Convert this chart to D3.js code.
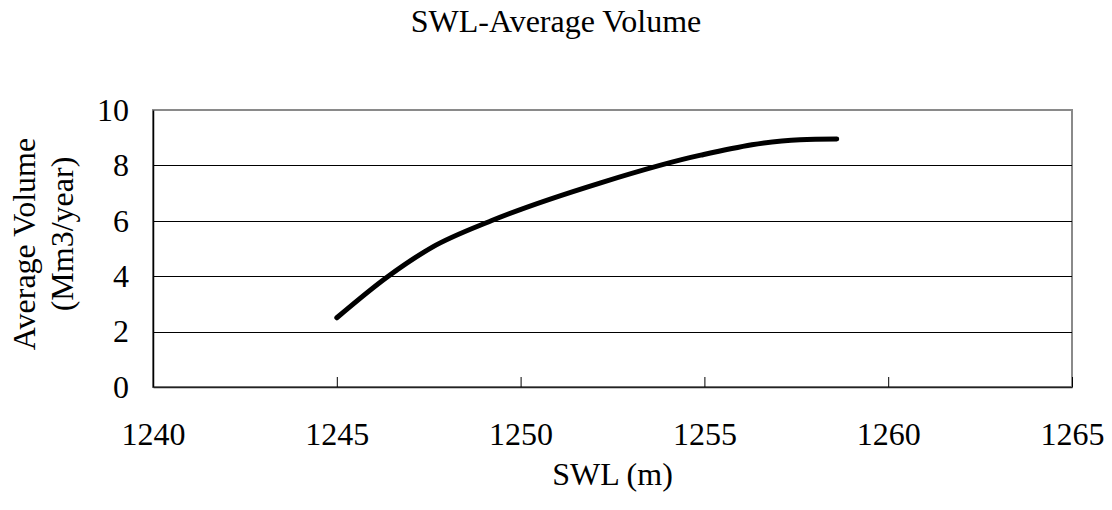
<!DOCTYPE html>
<html>
<head>
<meta charset="utf-8">
<script src="https://cdn.jsdelivr.net/npm/d3@7"></script>
<style>
  html, body { margin: 0; padding: 0; background: #fff; }
  svg { display: block; }
  text { font-family: "Liberation Serif", "Times New Roman", serif; fill: #000; }
</style>
</head>
<body>
<script>
// ---- data ----
const swl    = [1245.0, 1246.4, 1247.6, 1249.2, 1252.2, 1254.9, 1257.6, 1258.6];
const volume = [2.50,   4.00,   5.05,   6.00,   7.38,   8.37,   8.93,   8.95];
const xTicks = [1240, 1245, 1250, 1255, 1260, 1265];
const yTicks = [0, 2, 4, 6, 8, 10];
const titleText = "SWL-Average Volume";
const xTitle = "SWL (m)";
const yTitleLines = ["Average Volume", "(Mm3/year)"];

const W = 1112, H = 510;
const plot = { left: 153, right: 1072, top: 110, bottom: 387 };
const FS = 32;

const svg = d3.select("body").append("svg").attr("width", W).attr("height", H);

const x = d3.scaleLinear().domain([1240, 1265]).range([plot.left, plot.right]);
const y = d3.scaleLinear().domain([0, 10]).range([plot.bottom, plot.top]);

// plot border (gray)
svg.append("rect")
  .attr("x", plot.left).attr("y", plot.top)
  .attr("width", plot.right - plot.left).attr("height", plot.bottom - plot.top)
  .attr("fill", "#fff").attr("stroke", "#8a8a8a").attr("stroke-width", 2);

// gridlines
svg.append("g").selectAll("line")
  .data(yTicks.filter(d => d > 0 && d < 10))
  .join("line")
  .attr("x1", plot.left).attr("x2", plot.right)
  .attr("y1", d => Math.round(y(d)) + 0.5).attr("y2", d => Math.round(y(d)) + 0.5)
  .attr("stroke", "#000").attr("stroke-width", 1);

// y axis
const yAxis = d3.axisLeft(y).tickValues(yTicks).tickSize(0).tickPadding(24).tickFormat(d3.format("d"));
const gy = svg.append("g").attr("transform", `translate(${plot.left},0)`).call(yAxis);
gy.attr("font-size", FS).attr("font-family", "Liberation Serif");
gy.select(".domain").attr("stroke", "#000").attr("stroke-width", 1.5);
gy.selectAll("text").attr("font-size", FS);

// x axis (ticks inside)
const xAxis = d3.axisBottom(x).tickValues(xTicks).tickSizeInner(-10).tickSizeOuter(0).tickPadding(0).tickFormat(d3.format("d"));
const gx = svg.append("g").attr("transform", `translate(0,${plot.bottom})`).call(xAxis);
gx.attr("font-size", FS).attr("font-family", "Liberation Serif");
gx.select(".domain").attr("stroke", "#222").attr("stroke-width", 1.5);
gx.selectAll(".tick line").attr("stroke", "#000");
gx.selectAll("text").attr("font-size", FS).attr("dy", null).attr("y", 58);

// curve
const pts = swl.map((s, i) => [s, volume[i]]);
svg.append("path")
  .datum(pts)
  .attr("fill", "none").attr("stroke", "#000").attr("stroke-width", 5)
  .attr("stroke-linecap", "round").attr("stroke-linejoin", "round")
  .attr("d", d3.line().x(d => x(d[0])).y(d => y(d[1])).curve(d3.curveMonotoneX));

// titles
svg.append("text").attr("x", 556).attr("y", 32).attr("text-anchor", "middle")
  .attr("font-size", FS).text(titleText);
svg.append("text").attr("x", (plot.left + plot.right) / 2).attr("y", 485).attr("text-anchor", "middle")
  .attr("font-size", FS).text(xTitle);
const yCenters = [244, 234];
const yBase = [35, 73];
yTitleLines.forEach((t, i) => {
  svg.append("text")
    .attr("transform", `translate(${yBase[i]},${yCenters[i]}) rotate(-90)`)
    .attr("text-anchor", "middle").attr("font-size", FS).text(t);
});
</script>
</body>
</html>
